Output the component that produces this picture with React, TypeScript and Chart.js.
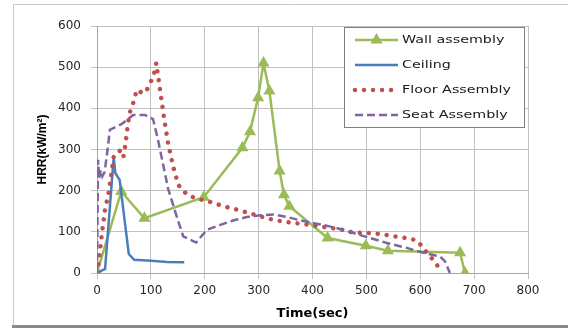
import React, { useEffect, useRef } from "react";
import { Chart, registerables } from "chart.js";

Chart.register(...registerables);

// ---- data ----
const seriesLabels = ["Wall assembly", "Ceiling", "Floor Assembly", "Seat Assembly"];

const xAxisTitle = "Time(sec)";
const yAxisTitle = "HRR(kW/m²)";

const wallTime = [0, 45, 88, 198, 270, 284, 299, 309, 320, 339, 347, 357, 428, 499, 540, 674, 683];
const wallHRR = [0, 198, 133, 184, 304, 343, 426, 510, 442, 248, 190, 162, 85, 66, 54, 49, 0];

const ceilingTime = [0, 15, 31, 34, 42, 59, 69, 100, 130, 162];
const ceilingHRR = [0, 10, 281, 243, 226, 46, 32, 30, 27, 26];

const floorTime = [0, 3, 9, 15, 21, 26, 31, 36, 43, 49, 53, 58, 62, 67, 74, 83, 90, 98, 105, 110, 113, 117, 121, 125, 132, 141, 151, 158, 170, 188, 207, 226, 244, 263, 281, 300, 318, 337, 356, 376, 396, 414, 436, 456, 473, 495, 513, 535, 553, 575, 594, 603, 613, 624, 634];
const floorHRR = [0, 25, 95, 155, 190, 235, 282, 285, 298, 282, 315, 368, 395, 412, 445, 438, 438, 460, 478, 510, 482, 445, 408, 372, 315, 260, 214, 202, 188, 180, 174, 166, 159, 153, 146, 139, 132, 127, 123, 120, 117, 113, 109, 105, 99, 97, 97, 93, 89, 85, 79, 65, 48, 32, 14];

const seatTime = [0, 2, 4, 7, 10, 14, 18, 24, 46, 67, 89, 104, 113, 132, 148, 160, 184, 204, 229, 254, 278, 303, 328, 353, 377, 402, 426, 451, 476, 507, 538, 575, 606, 637, 646, 655];
const seatHRR = [0, 275, 230, 250, 235, 245, 283, 348, 362, 384, 384, 374, 325, 205, 137, 89, 74, 105, 117, 128, 136, 140, 142, 136, 128, 121, 115, 107, 97, 85, 73, 61, 49, 40, 28, 0];

const xMin = 0, xMax = 800, xStep = 100;
const yMin = 0, yMax = 600, yStep = 100;

function pts(xs: number[], ys: number[]) {
  return xs.map((x, i) => ({ x, y: ys[i] }));
}

const framePlugin = {
  id: "frame",
  beforeDraw(chart: any) {
    const ctx = chart.ctx;
    ctx.save();
    ctx.fillStyle = "#ffffff";
    ctx.fillRect(0, 0, chart.width, chart.height);
    ctx.strokeStyle = "#c8c8c8";
    ctx.lineWidth = 1;
    ctx.beginPath();
    ctx.moveTo(13.5, 326);
    ctx.lineTo(13.5, 4.5);
    ctx.lineTo(chart.width, 4.5);
    ctx.stroke();
    ctx.strokeStyle = "#8a8a8a";
    ctx.lineWidth = 3;
    ctx.beginPath();
    ctx.moveTo(12, 326.5);
    ctx.lineTo(chart.width, 326.5);
    ctx.stroke();
    ctx.restore();
  },
};

function drawTriangle(ctx: CanvasRenderingContext2D, x: number, y: number, r: number, color: string) {
  ctx.beginPath();
  for (let k = 0; k < 3; k++) {
    const a = -Math.PI / 2 + (k * 2 * Math.PI) / 3;
    const px = x + r * Math.cos(a);
    const py = y + r * Math.sin(a);
    if (k === 0) ctx.moveTo(px, py);
    else ctx.lineTo(px, py);
  }
  ctx.closePath();
  ctx.fillStyle = color;
  ctx.fill();
}

const legendPlugin = {
  id: "insideLegend",
  afterDraw(chart: any) {
    const ctx: CanvasRenderingContext2D = chart.ctx;
    const bx = 344.5, by = 27.5, bw = 180, bh = 100;
    ctx.save();
    ctx.fillStyle = "#ffffff";
    ctx.fillRect(bx, by, bw, bh);
    ctx.strokeStyle = "#808080";
    ctx.lineWidth = 1;
    ctx.strokeRect(bx, by, bw, bh);
    chart.data.datasets.forEach((ds: any, i: number) => {
      const cy = 40 + 25 * i;
      const x0 = 355, x1 = 398;
      ctx.save();
      ctx.strokeStyle = ds.borderColor;
      ctx.lineWidth = ds.borderWidth;
      ctx.setLineDash(ds.borderDash || []);
      ctx.lineCap = ds.borderCapStyle || "butt";
      ctx.beginPath();
      ctx.moveTo(x0, cy);
      ctx.lineTo(x1, cy);
      ctx.stroke();
      ctx.restore();
      if (ds.pointRadius > 0) {
        drawTriangle(ctx, (x0 + x1) / 2, cy, ds.pointRadius, ds.pointBackgroundColor);
      }
      ctx.save();
      ctx.translate(402, cy);
      ctx.scale(1.3, 1);
      ctx.font = '11px "DejaVu Sans"';
      ctx.fillStyle = "#1a1a1a";
      ctx.textBaseline = "middle";
      ctx.textAlign = "left";
      ctx.fillText(ds.label, 0, 0);
      ctx.restore();
    });
    ctx.restore();
  },
};

export default function App() {
  const canvasRef = useRef<HTMLCanvasElement | null>(null);

  useEffect(() => {
    document.body.style.margin = "0";
    const canvas = canvasRef.current;
    if (!canvas) return;
    const chart = new Chart(canvas, {
      type: "line",
      data: {
        datasets: [
          {
            label: seriesLabels[0],
            data: pts(wallTime, wallHRR),
            borderColor: "#9bbb59",
            backgroundColor: "#9bbb59",
            borderWidth: 2.5,
            pointStyle: "triangle",
            pointRadius: 7,
            pointBackgroundColor: "#9bbb59",
            pointBorderColor: "#9bbb59",
            pointBorderWidth: 0,
            tension: 0,
            order: 4,
          },
          {
            label: seriesLabels[1],
            data: pts(ceilingTime, ceilingHRR),
            borderColor: "#4a7ebb",
            backgroundColor: "#4a7ebb",
            borderWidth: 2.5,
            pointRadius: 0,
            tension: 0,
            order: 3,
          },
          {
            label: seriesLabels[2],
            data: pts(floorTime, floorHRR),
            borderColor: "#c0504d",
            backgroundColor: "#c0504d",
            borderWidth: 4.5,
            borderDash: [0.01, 9],
            borderCapStyle: "round",
            pointRadius: 0,
            tension: 0,
            order: 2,
          },
          {
            label: seriesLabels[3],
            data: pts(seatTime, seatHRR),
            borderColor: "#8064a2",
            backgroundColor: "#8064a2",
            borderWidth: 2.5,
            borderDash: [8, 4],
            pointRadius: 0,
            tension: 0,
            order: 1,
          },
        ] as any,
      },
      options: {
        responsive: false,
        animation: false,
        layout: { padding: { top: 26, right: 40, left: 0, bottom: 0 } },
        plugins: {
          legend: { display: false },
          tooltip: { enabled: false },
        },
        scales: {
          x: {
            type: "linear",
            min: xMin,
            max: xMax,
            ticks: {
              stepSize: xStep,
              font: { family: "DejaVu Sans", size: 12 },
              color: "#262626",
              padding: 5,
              maxRotation: 0,
            },
            grid: { color: "#c0c0c0", tickLength: 6, lineWidth: 1 },
            border: { color: "#a6a6a6" },
            title: {
              display: true,
              text: xAxisTitle,
              font: { family: "DejaVu Sans", size: 13, weight: "bold" },
              color: "#000000",
              padding: { top: 0, bottom: 8 },
            },
            afterFit: (s: any) => {
              s.height = 56;
            },
          },
          y: {
            type: "linear",
            min: yMin,
            max: yMax,
            ticks: {
              stepSize: yStep,
              font: { family: "DejaVu Sans", size: 12 },
              color: "#262626",
              padding: 10,
            },
            grid: { color: "#c0c0c0", tickLength: 6, lineWidth: 1 },
            border: { color: "#a6a6a6" },
            title: {
              display: true,
              text: yAxisTitle,
              font: { family: "Liberation Sans", size: 12, weight: "bold" },
              color: "#000000",
              padding: { top: 35, bottom: 0 },
            },
            afterFit: (s: any) => {
              s.width = 97;
            },
          },
        },
      } as any,
      plugins: [framePlugin, legendPlugin],
    });
    return () => chart.destroy();
  }, []);

  return (
    <div style={{ width: 568, height: 329 }}>
      <canvas ref={canvasRef} width={568} height={329} style={{ display: "block" }} />
    </div>
  );
}
